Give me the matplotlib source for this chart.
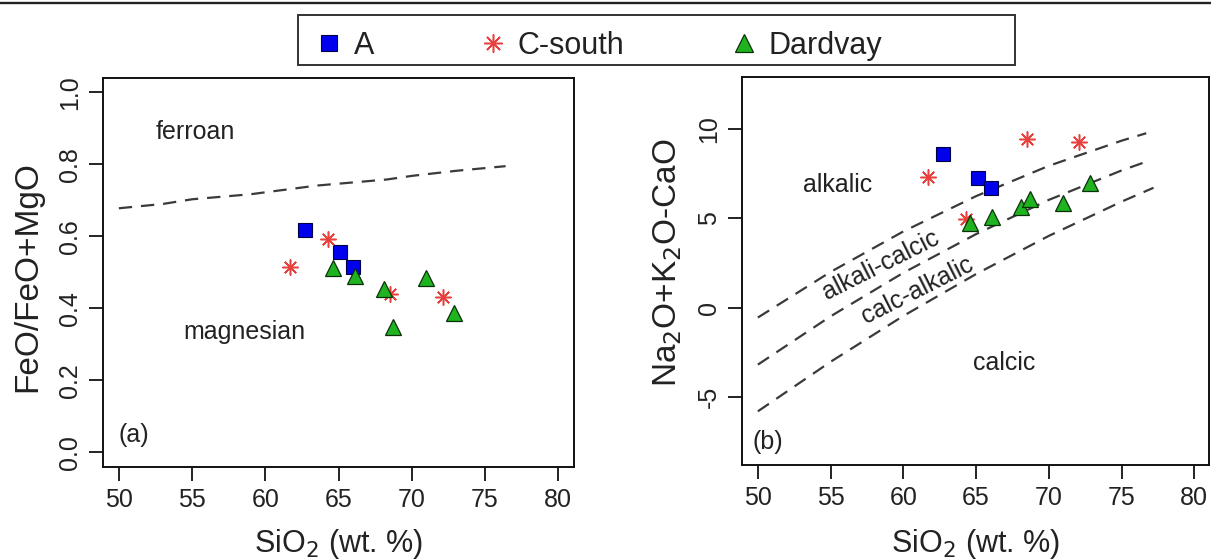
import matplotlib
matplotlib.use("Agg")
import matplotlib.pyplot as plt
from matplotlib.lines import Line2D
from matplotlib.patches import Rectangle

plt.rcParams['font.family'] = ['Liberation Sans', 'DejaVu Sans']

# sample data
A_sio2 = [62.7, 65.1, 66.0]
A_feo = [0.617, 0.556, 0.516]
A_mali = [8.60, 7.28, 6.72]

C_sio2 = [61.7, 64.3, 68.5, 72.1]
C_feo = [0.516, 0.594, 0.440, 0.432]
C_mali = [7.34, 4.95, 9.45, 9.27]

D_sio2 = [64.6, 66.1, 68.1, 68.7, 71.0, 72.85]
D_feo = [0.511, 0.490, 0.453, 0.349, 0.485, 0.388]
D_mali = [4.72, 5.09, 5.62, 6.07, 5.84, 7.00]

# ferroan / magnesian boundary
fe_x = [50, 53, 55, 59, 60.3, 63.5, 68.3, 70, 73, 76.4]
fe_y = [0.678, 0.690, 0.703, 0.717, 0.724, 0.741, 0.758, 0.768, 0.782, 0.795]

# MALI boundaries
mali_x1 = [50, 55, 60, 65, 70, 75, 76.7]
mali_y1 = [-0.56, 2.00, 4.27, 6.25, 7.95, 9.36, 9.78]
mali_x2 = [50, 55, 60, 65, 70, 75, 76.9]
mali_y2 = [-3.20, -0.49, 1.95, 4.12, 6.04, 7.69, 8.24]
mali_x3 = [50, 55, 60, 65, 70, 75, 77.2]
mali_y3 = [-5.82, -3.04, -0.47, 1.88, 4.02, 5.94, 6.72]

x_ticks = [50, 55, 60, 65, 70, 75, 80]
a_yticks = [0.0, 0.2, 0.4, 0.6, 0.8, 1.0]
b_yticks = [-5, 0, 5, 10]

TXT = '#222222'
styles = {
    'A': dict(marker='s', ms=9.5, mfc='#0000ee', mec='#000044', mew=0.8, ls='none'),
    'C-south': dict(marker=(8, 2, 0), ms=11.5, mfc='none', mec='#e8403c', mew=1.1, ls='none'),
    'Dardvay': dict(marker='^', ms=11.5, mfc='#1fb41f', mec='#0a300a', mew=0.9, ls='none'),
}

fig = plt.figure(figsize=(12.11, 5.59), dpi=100)
ax1 = fig.add_axes([0.0853, 0.1651, 0.3887, 0.6954])
ax2 = fig.add_axes([0.6125, 0.1682, 0.3858, 0.6949])

def style_axes(ax):
    for s in ax.spines.values():
        s.set_linewidth(1.4)
        s.set_color('#111111')
    ax.tick_params(length=10, width=1.3, color='#111111', labelsize=18,
                   labelcolor=TXT, pad=5)
    ax.set_xticks(x_ticks)
    ax.set_xticklabels([str(t) for t in x_ticks])

# panel (a)
ax1.plot(fe_x, fe_y, color='#3a3a3a', lw=1.6, dashes=[6, 4])
ax1.plot(A_sio2, A_feo, **styles['A'])
ax1.plot(C_sio2, C_feo, **styles['C-south'])
ax1.plot(D_sio2, D_feo, **styles['Dardvay'])
ax1.set_xlim(48.94, 81.07)
ax1.set_ylim(-0.04, 1.04)
style_axes(ax1)
ax1.set_yticks(a_yticks)
ax1.set_yticklabels([f'{v:.1f}' for v in a_yticks], rotation=90, va='center')
ax1.set_xlabel('SiO$_2$ (wt. %)', fontsize=22, color=TXT)
ax1.set_ylabel('FeO/FeO+MgO', fontsize=24, color=TXT)
ax1.xaxis.set_label_coords(0.5, -0.155)
ax1.yaxis.set_label_coords(-0.128, 0.49)
ax1.text(55.2, 0.89, 'ferroan', fontsize=18, color=TXT, ha='center', va='center')
ax1.text(58.6, 0.335, 'magnesian', fontsize=18, color=TXT, ha='center', va='center')
ax1.text(51.0, 0.048, '(a)', fontsize=18, color=TXT, ha='center', va='center')

# panel (b)
for xs, ys in [(mali_x1, mali_y1), (mali_x2, mali_y2), (mali_x3, mali_y3)]:
    ax2.plot(xs, ys, color='#3a3a3a', lw=1.6, dashes=[6, 4])
ax2.plot(A_sio2, A_mali, **styles['A'])
ax2.plot(C_sio2, C_mali, **styles['C-south'])
ax2.plot(D_sio2, D_mali, **styles['Dardvay'])
ax2.set_xlim(48.89, 81.01)
ax2.set_ylim(-8.83, 12.96)
style_axes(ax2)
ax2.set_yticks(b_yticks)
ax2.set_yticklabels([str(v) for v in b_yticks], rotation=90, va='center')
ax2.set_xlabel('SiO$_2$ (wt. %)', fontsize=22, color=TXT)
ax2.set_ylabel('Na$_2$O+K$_2$O-CaO', fontsize=24, color=TXT)
ax2.xaxis.set_label_coords(0.5, -0.16)
ax2.yaxis.set_label_coords(-0.123, 0.52)
ax2.text(55.5, 6.87, 'alkalic', fontsize=18, color=TXT, ha='center', va='center')
ax2.text(66.9, -3.13, 'calcic', fontsize=18, color=TXT, ha='center', va='center')
ax2.text(50.67, -7.53, '(b)', fontsize=18, color=TXT, ha='center', va='center')
ax2.text(58.44, 2.38, 'alkali-calcic', fontsize=18, color=TXT, ha='center',
         va='center', rotation=26.7, rotation_mode='anchor')
ax2.text(60.98, 0.98, 'calc-alkalic', fontsize=18, color=TXT, ha='center',
         va='center', rotation=26.7, rotation_mode='anchor')

# top rule and legend
fig.add_artist(Line2D([0, 1], [1 - 3 / 559, 1 - 3 / 559], transform=fig.transFigure,
                      color='#222222', lw=1.7))
fig.add_artist(Rectangle((298 / 1211, 1 - 65 / 559), 717 / 1211, 50 / 559,
                         transform=fig.transFigure, fill=False,
                         edgecolor='#333333', lw=1.4))
handles = [Line2D([], [], **styles[k]) for k in ['A', 'C-south', 'Dardvay']]
leg = fig.legend(handles, ['A', 'C-south', 'Dardvay'], loc='center left',
                 bbox_to_anchor=(314 / 1211, 1 - 46 / 559), ncol=3, frameon=False,
                 fontsize=22, handlelength=1.0, handletextpad=0.3,
                 columnspacing=3.4, borderpad=0, borderaxespad=0, markerscale=1.15)
for t in leg.get_texts():
    t.set_color(TXT)

fig.savefig('out.png', dpi=100)
